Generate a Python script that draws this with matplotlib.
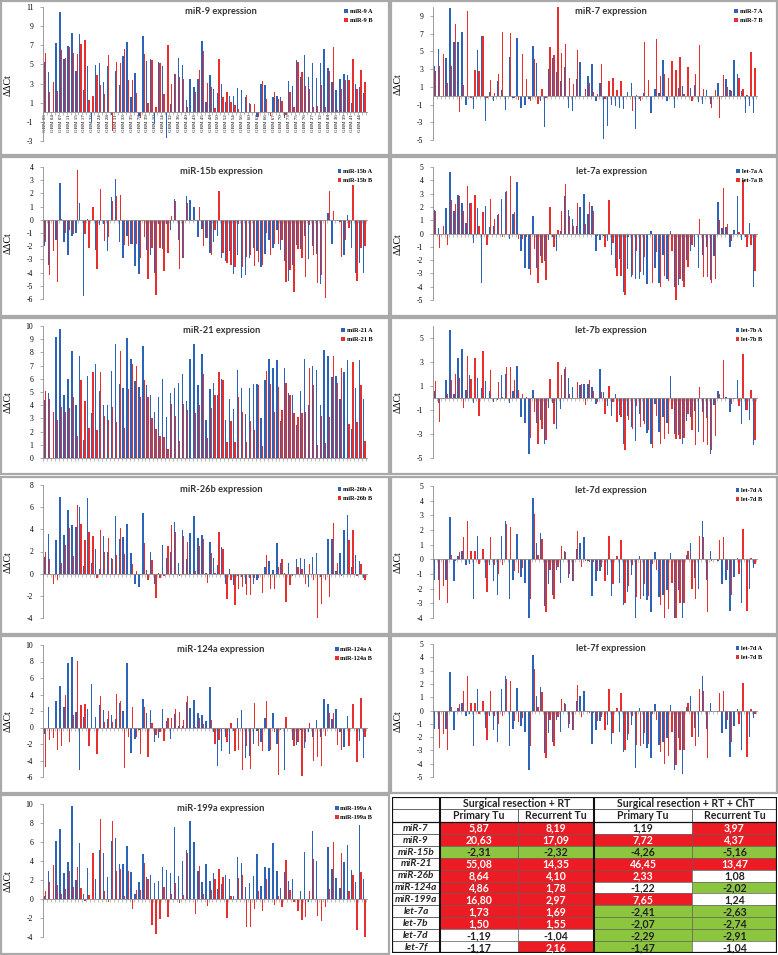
import numpy as np
import matplotlib.pyplot as plt
from matplotlib.patches import Rectangle

W, H = 778, 955
BLUE = '#2b63b9'
RED = '#e92e2e'
GRAY = '#8c8c8c'
SERIF = 'Liberation Serif'

# ---- data (ddCt per sample pair, A = primary, B = recurrent) ----
mir9_a = [5.3, 4.2, 0, 7.2, 10.5, 5.6, 6.9, 8.3, 4.3, 8.2, 2.3, 4.8, -1.0, 4.9, 5.1, 3.2, 4.8, -0.3, 4.3, 2.9,
          5.9, 7.3, 1.6, 4.1, -0.4, 8.0, 5.4, 5.6, -1.2, 5.3, 4.8, -2.7, 0.9, 4.0, 5.7, 4.9, 1.3, 3.5, 2.6, 3.5,
          7.4, 1.1, 3.9, 2.4, 2.0, 3.0, 1.1, 1.7, 1.7, 2.5, 2.3, 1.6, 1.0, 0, -0.5, 3.0, 2.9, 0, 1.6, 1.7,
          1.6, -0.6, 3.3, 2.7, 5.5, 3.7, 6.0, 3.7, 5.2, 3.6, 5.2, 6.6, 4.6, 3.2, 2.3, 3.5, 4.0, 3.9, 1.0, 3.0,
          2.6, 2.0]
mir9_b = [6.2, 2.1, 3.2, 2.2, 6.5, 5.7, 6.8, 6.2, 6.1, 7.1, 7.5, 1.3, 1.7, 3.9, 2.8, 1.9, 6.0, -2.0, 5.3, 5.2,
          6.6, 3.4, 3.4, 2.0, -0.6, 6.1, 1.0, 5.5, 0.5, 5.1, 1.9, 7.0, 3.0, 4.0, 3.7, 3.5, 0.6, 0, 2.1, 4.4,
          6.4, 3.1, 2.6, 0.4, 5.6, 1.6, 2.1, 1.1, 0.8, 0.3, -0.1, 1.8, 0.9, 0.9, -0.5, 3.3, 1.4, -0.4, 2.1, 1.4,
          1.2, -0.3, 2.1, 0.6, 5.3, 4.2, 2.7, 2.4, 0.6, 0.7, 2.8, 0.6, 4.3, 6.8, 0.2, 2.4, 3.4, 3.4, 5.6, 2.4,
          4.4, 3.2]
mir9_labels = ['GBM 06', 'GBM 04', 'GBM 07', 'GBM 11', 'GBM 15', 'GBM 17', 'GBM 22', 'GBM 24', 'GBM 28',
               'GBM 31', 'GBM 33', 'GBM 35', 'GBM 78', 'GBM 39', 'GBM 10', 'GBM 14', 'GBM 32', 'GBM 36',
               'GBM 40', 'GBM 43', 'GBM 45', 'GBM 48', 'GBM 50', 'GBM 52', 'GBM 54', 'GBM 56', 'GBM 60',
               'GBM 62', 'GBM 66', 'GBM 67', 'GBM 70', 'GBM 73', 'GBM 75', 'GBM 76', 'GBM 27', 'GBM 32',
               'GBM 88', 'GBM 36', 'GBM 39', 'GBM 41', 'GBM 44']

mir7_a = [3.4, 5.3, 0, 4.2, 9.9, 6.1, 6.0, 7.2, -1.1, 0, -1.5, 5.1, 6.7, -2.9, 0.4, -0.6, 1.6, 0.6, -1.6, 4.4,
          -0.3, 6.5, -1.4, -1.1, -0.4, 5.6, 3.7, -0.6, -3.5, 3.0, 4.3, 2.7, 1.7, 3.2, -1.4, -1.7, 1.9, 3.8, 0, 2.2,
          3.6, -0.6, 1.4, -4.9, -3.4, -1.1, -1.2, -1.4, -1.5, 0.4, 1.4, -3.8, -0.4, 0.3, -0.2, -2.0, 0.7, 0.3, 4.0,
          -0.6, 0, -1.4, 0.9, 1.1, 0, 0.9, 1.2, -0.7, -0.9, 0.6, -0.9, 0, 1.4, -0.2, 1.9, 0.6, 4.0, 2.4, 0.5,
          -2.0, -1.2, -1.9]
mir7_b = [2.8, 3.3, 4.7, 1.4, 3.3, 8.1, -1.8, 1.2, 9.6, -0.3, 2.9, 2.8, 6.7, -0.3, 1.8, 0.3, 2.4, 7.2, 0, 7.1,
          -0.3, -0.5, 4.7, 1.9, -0.6, 4.1, -0.9, 0.8, -0.3, 5.5, 4.6, 10.0, 4.8, 5.8, 2.0, 1.3, 5.2, 0, 0.8, 1.4,
          0.4, 0.2, 3.6, -0.4, 1.6, 2.0, 0.6, 1.6, -0.2, 0, -1.7, 0.1, -0.6, 6.0, 1.8, 0, 6.4, 2.2, 2.4, 2.0,
          3.9, 2.9, 4.4, 0.2, 3.2, -0.6, 2.4, 5.7, 0.7, -0.2, -1.4, 0.6, -2.5, 2.3, 1.0, 0.5, 0, 2.0, 0.8, 0.1,
          4.9, 3.1]

mir15b_a = [-2.0, -3.4, 0, -1.5, 2.8, -1.7, -2.7, -1.2, -1.0, 1.3, -5.8, 0.05, 0, -2.3, -0.4, -0.3, -2.4, 1.7,
            3.1, -1.7, -2.9, -1.2, -1.8, -3.5, -4.1, 0, -2.3, -2.7, -4.0, -0.3, -2.2, -0.3, -0.8, 1.6, -1.5, -2.9,
            1.8, 1.5, 1.0, -1.3, -0.7, -1.4, -2.5, -1.7, -1.2, -2.9, -3.1, -2.4, -4.1, -2.7, -4.4, -4.2, -2.9,
            -2.1, -2.4, -3.6, -2.6, -1.5, -2.1, -0.8, -2.3, -3.1, -4.6, -3.4, -1.9, -2.2, -1.2, -3.0, -2.0, -2.6,
            -4.9, 0, 0.5, -1.8, 0, -0.2, -2.7, 0.4, -2.1, -4.0, -3.3, -4.0]
mir15b_b = [-1.7, -4.2, -2.4, -4.7, 0.05, -1.0, -0.8, -1.1, 3.8, 0, -1.1, -2.1, 1.0, -3.7, 2.3, -1.6, -1.3, 1.4,
            1.8, 1.9, -1.9, -2.0, -1.8, -1.8, -2.9, -1.3, -4.5, -2.1, -5.7, -2.1, -3.9, -2.5, 0.3, 1.4, -3.7, -2.9,
            1.3, -0.1, 0, 1.0, -2.0, -1.4, -2.7, -0.8, 2.2, -2.5, -3.3, -3.4, -3.6, -0.3, -3.6, -2.8, -2.7, -3.5,
            -3.2, -3.4, -1.0, -2.7, -1.8, -1.8, -1.5, -4.7, -3.8, -5.5, -2.2, -2.9, -4.3, -0.4, -2.7, -4.8, -4.2,
            -5.9, 2.2, 0.7, -0.1, -2.8, -1.5, -0.6, 2.6, -4.6, -2.1, -2.0]

mir21_a = [4.4, 4.9, 0, 9.2, 9.8, 4.8, 6.0, 8.1, 4.0, 7.7, 1.4, 6.2, 3.4, 7.1, 5.1, 4.0, 4.0, 6.6, 8.6, 5.6,
           5.3, 9.1, 7.5, 5.8, 5.4, 8.5, 5.5, 4.8, 3.5, 4.6, 6.0, 3.1, 4.9, 5.3, 5.7, 6.4, 4.3, 7.5, 8.6, 5.5,
           7.9, 2.9, 5.2, 5.7, 4.8, 6.0, 2.9, 4.5, 3.7, 6.7, 5.3, 3.3, 5.3, 5.6, 5.6, 3.0, 5.9, 7.5, 6.8, 7.4,
           2.8, 6.8, 4.9, 4.8, 2.5, 5.1, 7.5, 4.0, 7.0, 6.7, 4.0, 8.2, 7.7, 6.1, 6.2, 4.5, 6.5, 7.4, 2.2, 5.3,
           7.4, 4.5]
mir21_b = [5.1, 4.5, 3.5, 2.9, 3.9, 3.5, 3.8, 4.6, 1.7, 5.9, 4.3, 2.3, 6.5, 2.1, 6.5, 3.2, 2.9, 3.9, 2.7, 8.1,
           2.3, 5.2, 7.1, 7.0, 4.6, 5.9, 4.6, 3.0, 2.2, 1.7, 1.6, 0.7, 4.1, 3.2, 1.3, 4.1, 3.6, 0, 3.4, 4.0,
           6.4, 1.5, 3.8, 4.8, 6.5, 5.9, 1.2, 2.8, 1.2, 4.6, 3.5, 1.2, 2.8, 2.1, 5.5, 0.9, 6.6, 5.6, 3.5, 5.4,
           3.6, 5.7, 4.8, 3.4, 3.1, 3.4, 3.5, 6.8, 5.5, 1.0, 3.2, 1.1, 3.1, 7.7, 5.7, 6.8, 0, 2.6, 7.3, 2.7,
           5.5, 1.3]

let7a_a = [1.8, 0.4, 0, 1.9, 4.6, 1.7, 2.9, 2.3, 0.8, 2.3, -0.7, 1.9, -3.7, 2.1, 0.5, 0.6, 1.4, 2.6, 3.1, -0.4,
           1.5, 3.9, -1.3, -2.6, -2.7, 1.3, -2.6, -1.7, -2.1, -0.5, -0.3, -1.3, 0.2, 2.8, 1.8, 1.1, 0.6, 2.0, 3.0,
           1.5, 2.1, -1.3, -0.5, -0.2, -0.6, -1.6, -2.6, -1.9, -4.4, -2.7, -3.3, -3.4, -3.4, -3.1, -3.8, 0.2,
           -2.6, -3.7, -1.6, -3.4, 0.2, -4.0, -3.9, -3.6, -2.0, -1.3, -1.0, -2.6, -1.6, -1.0, -3.5, -1.7, 2.4,
           0.4, 0.5, -1.0, 0.3, 2.8, -0.5, -0.3, 0.8, -4.0]
let7a_b = [1.7, -1.1, 0.6, -0.9, 2.5, 2.2, 2.8, 1.7, 3.6, 2.3, 2.9, 0.6, 1.6, -0.9, 2.6, 1.1, 1.5, -0.3, 3.2, 4.3,
           1.6, -0.4, -0.4, -0.3, -3.1, -1.2, -3.7, -2.2, -3.5, 2.0, -1.0, 0.3, 1.7, 3.7, 1.3, 0.6, 2.3, 0, 0.7,
           2.4, 1.7, -0.2, 0, -1.0, 2.5, -0.7, -3.2, -3.2, -4.6, -0.3, -3.1, -1.3, -2.9, -1.8, 0, -3.7, -1.4,
           -4.0, -3.2, -3.6, -1.3, -5.0, -3.4, -4.0, -2.5, -0.9, 0, 1.1, -3.3, -3.3, -3.7, -3.4, 1.0, 3.4, 0.7,
           -0.6, 0, 0.1, 4.0, -1.0, -0.9, -2.8]

let7b_a = [0.6, -0.4, 0, 1.5, 5.7, 0.3, 3.3, 4.1, 0.7, 1.9, -0.4, 1.7, 0.8, 1.4, 0.6, -0.3, -0.2, 1.9, 2.0, -0.4,
           0.6, 2.7, -1.6, -2.1, -4.7, 0.7, -2.1, -1.8, -3.8, -0.8, -0.4, -2.6, -0.9, 2.4, 1.7, 0.9, 0, 1.1, 1.2,
           1.2, 0.9, -0.5, 2.4, 0.5, -0.7, -1.5, 0.3, -1.4, -3.8, -1.5, -2.4, -3.6, -1.3, -1.9, -2.9, -3.8, -0.5,
           -2.8, -1.6, -2.1, 1.8, -3.0, -3.1, -3.8, -1.9, -1.6, -1.1, -2.8, -1.2, -1.7, -4.7, -0.6, 0.6, 0, 0.1,
           -1.2, -0.1, 1.5, -2.2, -1.0, -1.8, -3.9]
let7b_b = [1.4, -2.0, -0.1, 0.3, 1.5, 2.0, 1.7, -0.8, 3.5, 1.6, 3.3, -1.5, 3.9, 0, 2.3, 0, 1.3, 0.1, 2.6, 2.6,
           1.5, 0.7, 0.3, 0.1, -3.3, -1.2, -3.8, -2.6, -3.5, 1.6, -2.2, 3.0, 1.9, 2.6, 0.3, 0, 1.3, 1.2, -0.6,
           1.5, 0.6, -0.3, 0.5, -1.3, 1.0, -0.3, -2.0, -1.6, -4.3, -1.8, -2.6, -0.7, -2.4, -2.2, -2.7, -4.2, -1.5,
           -3.8, -3.4, -3.0, -0.9, -3.4, -3.4, -3.3, -1.3, -2.7, -3.9, 0.9, -3.7, -3.9, -4.3, -3.2, 0.3, 3.2, 0,
           -0.5, 0, -0.7, 3.7, -1.0, 0.7, -3.5]

mir26b_a = [1.5, 3.6, 0, 3.0, 6.9, 3.5, 5.7, 4.4, 4.2, 6.0, 0.7, 6.8, 1.0, 2.2, 0.4, 3.4, 2.0, 1.4, 5.2, 3.1,
            3.3, 4.5, 1.9, -0.9, -1.2, 5.5, 0.3, 2.0, -0.9, 0.1, 2.6, 1.4, 2.0, 4.7, 1.0, 3.9, 1.3, 3.7, 5.2, 3.2,
            3.5, 0.1, 2.9, 1.4, 0.8, 2.4, -0.9, 0.4, -1.0, -0.2, -0.3, -0.9, -0.4, -0.9, -0.6, 0, 0.6, 1.1, 0.3,
            2.8, 1.0, 0.1, 1.0, -0.2, 1.3, 1.4, 1.3, -1.2, 1.5, 1.9, -0.3, 0, 3.1, 3.1, 0.2, 1.9, 3.9, 5.3, 0.6,
            1.7, 1.1, -0.4]
mir26b_b = [2.0, 1.3, -0.9, -0.6, 1.0, 2.6, 4.1, 1.6, 6.2, 4.5, 3.0, 3.8, 3.4, -0.4, 3.9, 2.0, 3.2, 1.3, 1.7, 4.1,
            1.8, 0, 0.9, 0.2, -0.1, 2.8, -0.6, 1.2, -2.2, -0.4, -0.2, 2.5, 4.4, 3.8, -0.2, 3.4, 2.9, 0, 0.2, 2.5,
            3.1, -0.8, 1.9, 0.1, 3.8, 2.2, -2.3, -0.6, -2.8, -1.4, -1.2, -1.9, -1.9, -0.4, -0.4, -1.7, 1.7, -1.4,
            -1.4, 0.6, 1.3, -2.6, -1.0, 0, 0.6, 0.4, -0.9, 0.9, -0.6, -4.0, -2.7, -0.6, -2.1, 4.6, 1.0, -0.2, 0,
            3.0, 3.9, -0.2, 0.9, -0.6]

let7d_a = [-1.4, -1.4, 0, -1.4, 2.9, -1.5, 0.2, 0.6, -0.4, -0.3, -2.7, 1.6, 0, -1.3, -0.4, -1.5, -2.4, 1.6, 2.6,
           -2.7, -1.4, 1.7, -1.2, -1.6, -4.0, 4.2, 1.1, 1.8, -3.2, -1.7, -2.4, -0.7, -1.6, 0.6, -1.3, -1.5, 0.7,
           1.1, 1.5, -0.1, -2.5, -1.5, -0.8, 0, -1.1, -2.5, 0, -1.6, -3.1, -2.2, -1.1, -4.0, 0.2, -2.5, -2.8, -3.6,
           0.5, -2.6, -2.4, -2.1, 0.4, -4.0, -2.1, -4.0, 0.3, 1.1, -1.3, -2.0, 2.6, -1.4, 0.6, 0, -0.1, -1.7, -1.4,
           -3.5, -1.2, 0.1, -3.0, 0, -2.0, -0.6]
let7d_b = [0, -2.8, -1.8, -3.0, 0.3, -0.1, 0.5, 1.5, 2.6, 0.6, 0.6, -0.3, 0.7, -2.2, 1.5, -0.4, -1.0, -0.4, 2.4,
           2.2, -0.8, -0.9, -0.6, 0, -2.7, 3.1, 0.3, 1.4, -3.6, -0.7, -2.7, -0.5, 0.9, 0.5, -1.0, -1.5, 1.9, -0.5,
           -0.1, -0.2, -0.2, -0.8, -0.5, -1.5, 1.6, -1.7, 0.2, 1.3, -3.0, -1.8, -0.4, -2.6, -2.7, -1.7, -2.5, -0.3,
           -0.7, -3.1, -4.0, -3.4, -1.6, -4.0, -3.0, -3.0, 0.6, -2.0, -2.7, 1.6, 1.5, -3.6, -0.1, 0, 1.3, 1.5,
           -0.7, -2.4, 0, -1.0, 2.1, -3.5, 0.1, -0.3]

let7f_a = [-1.4, -1.4, 0, -1.4, 2.9, -1.5, 0.2, 0.6, -0.4, -0.3, -2.7, 1.6, 0, -1.3, -0.4, -1.5, -2.4, 1.6, 2.6,
           -2.7, -1.4, 1.7, -1.2, -1.6, -4.5, 4.2, 1.1, 1.8, -3.2, -1.7, -2.4, -0.7, -1.6, 0.6, -1.3, -1.5, 0.7,
           1.1, 1.5, -0.1, -2.5, -1.5, -0.8, 0, -1.1, -2.5, 0, -1.6, -3.1, -2.2, -1.1, -4.3, 0.2, -2.5, -2.8, -3.6,
           0.5, -2.6, -2.4, -2.1, 0.4, -4.5, -2.1, -4.8, 0.3, 1.1, -1.3, -2.0, 2.6, -1.4, 0.6, 0, -0.1, -1.7, -1.4,
           -3.5, -1.2, 0.1, -3.0, 0, -2.0, -0.6]
let7f_b = [0, -2.8, -1.8, -3.0, 0.3, -0.1, 0.5, 1.5, 2.6, 0.6, 0.6, -0.3, 0.7, -2.2, 1.5, -0.4, -1.0, -0.4, 2.4,
           2.2, -0.8, -0.9, -0.6, 0, -2.7, 3.1, 0.3, 1.4, -3.6, -0.7, -2.7, -0.5, 0.9, 0.5, -1.0, -1.5, 1.9, -0.5,
           -0.1, -0.2, -0.2, -0.8, -0.5, -1.5, 1.6, -1.7, 0.2, 1.3, -3.0, -1.8, -0.4, -2.6, -2.7, -1.7, -2.5, -0.3,
           -0.7, -3.1, -4.0, -3.4, -1.6, -4.1, -3.0, -3.0, 0.6, -2.0, -2.7, 1.6, 1.5, -3.6, -0.1, 0, 1.3, 1.5,
           -0.7, -2.4, 0, -1.0, 2.1, -3.5, 0.1, -0.3]

mir124a_a = [-0.8, 2.5, 0, 3.2, 5.0, 2.5, 7.8, 8.6, 1.9, -5.1, 1.3, 2.3, 5.3, 1.3, 2.7, 2.1, 1.0, 1.5, 1.0, 3.0,
             2.0, 7.8, -3.1, -1.4, -0.3, 3.5, 1.8, 2.1, -1.8, -1.3, 2.2, 0.8, -1.4, 1.6, 0.2, 0.2, 3.1, 2.4, 3.3,
             1.8, 1.5, 0.8, 4.9, -0.6, -4.7, -2.8, -1.1, -3.2, -0.4, 1.1, 2.1, -3.7, -3.5, -2.0, -0.4, -1.7, 1.1,
             -2.8, 1.8, -2.0, -0.3, -5.2, -0.1, -1.5, -2.1, -0.3, -2.5, -0.6, -1.1, 0.9, -1.1, 3.4, 2.9, 1.0, 2.3,
             -0.5, -2.4, 1.4, -0.1, -0.1, -1.6, -3.7]
mir124a_b = [-4.8, -1.5, -1.3, -2.7, -2.2, 3.9, -1.7, 1.5, 8.1, 2.7, 2.9, -2.3, -0.1, -3.2, 3.8, 0.7, 2.0, 0.7,
             4.1, 3.2, -4.9, -1.2, 2.5, -1.1, -3.2, 2.5, -3.6, 0.6, -0.9, -0.6, -1.6, 1.2, 1.2, 2.3, 1.9, 0.9, 3.8,
             0, 0.1, 1.2, 0.4, -0.1, 0.9, -2.0, -1.5, -0.2, -1.8, 0.5, -2.8, -2.7, -5.1, -2.3, -5.0, 3.0, -2.2,
             -2.8, 3.2, -2.7, -0.5, -5.7, 0, 1.3, -0.2, -2.2, -1.8, -5.9, -1.8, 0.5, -4.0, -3.6, -4.7, -1.0, 1.8,
             1.8, -2.1, -2.7, -0.1, -2.3, 2.8, -4.2, 3.6, -1.1]

mir199a_a = [0.3, 2.9, 0, 6.1, 7.4, 2.7, 3.9, 9.8, 2.0, 5.9, 0.5, 3.3, 0, 2.1, 5.2, 4.8, 2.3, 6.1, 6.4, 3.7,
             3.7, 5.6, 2.8, 0.5, 1.8, 4.7, 2.3, 2.5, 1.7, 1.9, 3.4, 3.1, 2.7, 7.6, 2.4, 4.0, 5.2, 8.2, 6.0, 3.0,
             1.8, 3.7, 1.9, 2.7, 1.1, 1.6, 2.5, 2.1, 0.3, 4.4, 3.8, 1.3, 1.7, 2.4, 4.7, 1.4, 3.4, 3.3, 5.9, 2.9,
             1.2, 2.8, 1.9, 2.1, 0, 0.8, 5.0, -0.3, 7.2, 4.0, 0, 0, 5.5, 3.2, 2.2, 1.2, 3.9, 5.7, 3.1, 1.8, 7.8, 2.1]
mir199a_b = [0.8, 1.8, 3.6, 1.5, 0.5, 1.1, 3.0, 1.3, 3.4, 1.2, -0.2, 0.4, 4.8, 0, 8.4, 0.8, -0.3, 8.2, 3.0, 3.2,
             0.3, 3.0, -1.0, 0.9, 0.9, 3.8, 2.1, -2.7, -3.7, -2.1, 1.3, -1.9, 0.5, 1.7, -0.4, 0.4, 4.8, 0, -1.6,
             3.5, 0.5, -0.7, 1.0, 2.1, 3.2, 2.3, -2.0, 0.3, 0, 2.2, 2.5, -2.9, -2.9, -1.0, 0.8, -1.3, 2.1, 0, -0.6,
             0.3, -0.8, 4.1, 0.9, -0.3, -1.3, -2.2, -1.9, 0.8, 4.2, -1.8, -2.3, -0.8, 1.1, 6.0, 0, 4.8, 0, 0.8, 2.5,
             -3.3, 2.8, -4.0]

# table
tab_names = ['miR-7', 'miR-9', 'miR-15b', 'miR-21', 'miR-26b', 'miR-124a', 'miR-199a',
             'let-7a', 'let-7b', 'let-7d', 'let-7f']
surg_rt_primary = [5.87, 20.63, -2.31, 55.08, 8.64, 4.86, 16.80, 1.73, 1.50, -1.19, -1.17]
surg_rt_recurrent = [8.19, 17.09, -2.32, 14.35, 4.10, 1.78, 2.97, 1.69, 1.55, -1.04, 2.16]
surg_cht_primary = [1.19, 7.72, -4.26, 46.45, 2.33, -1.22, 7.65, -2.41, -2.07, -2.29, -1.47]
surg_cht_recurrent = [3.97, 4.37, -5.16, 13.47, 1.08, -2.02, 1.24, -2.63, -2.74, -2.91, -1.04]
group_titles = ['Surgical resection + RT', 'Surgical resection + RT + ChT']
sub_titles = ['Primary Tu', 'Recurrent Tu', 'Primary Tu', 'Recurrent Tu']

fig = plt.figure(figsize=(W / 100, H / 100), dpi=100)


def add_axes_px(x0, y0, x1, y1):
    return fig.add_axes([x0 / W, 1 - y1 / H, (x1 - x0) / W, (y1 - y0) / H])


def draw_panel(box, axpx, a, b, title, names, ylim, yticks, xlabels=None):
    x0, y0, x1, y1 = box
    fig.add_artist(Rectangle((x0 / W, 1 - y1 / H), (x1 - x0) / W, (y1 - y0) / H,
                             transform=fig.transFigure, fill=False, ec='#a9a9a9', lw=1.6))
    ax = add_axes_px(*axpx)
    ax.bar(np.arange(len(a)) - 0.17, a, width=0.34, color=BLUE, label=names[0], zorder=2)
    ax.bar(np.arange(len(b)) + 0.17, b, width=0.34, color=RED, label=names[1], zorder=2)
    ax.set_xlim(-0.45, 81.7)
    ax.set_ylim(ylim)
    ax.set_yticks(yticks)
    ax.set_yticklabels([str(t) for t in yticks], family=SERIF, fontsize=5.5)
    ax.tick_params(axis='y', length=2, width=0.5, color=GRAY, pad=5)
    for s in ['top', 'right']:
        ax.spines[s].set_visible(False)
    ax.spines['left'].set_color(GRAY)
    ax.spines['left'].set_linewidth(0.6)
    ax.spines['bottom'].set_position(('data', 0))
    ax.spines['bottom'].set_color(GRAY)
    ax.spines['bottom'].set_linewidth(0.6)
    ax.set_xticks(np.arange(-0.5, 82, 1), minor=True)
    ax.tick_params(axis='x', which='minor', length=2, width=0.4, color=GRAY, direction='out')
    if xlabels:
        ax.set_xticks(np.arange(0, 2 * len(xlabels), 2))
        ax.set_xticklabels(xlabels, rotation=90, family=SERIF, fontsize=3.6)
        ax.tick_params(axis='x', which='major', length=0, pad=1.5)
    else:
        ax.set_xticks([])
    ax.patch.set_alpha(0)
    ax.text(0.55, 0.965, title, transform=ax.transAxes, ha='center', va='center',
            fontsize=6.7, fontweight='bold', family='Lato', color='#333333')
    ax.legend(loc='upper right', bbox_to_anchor=(1.03, 1.02), frameon=False,
              prop=dict(family=SERIF, weight='bold', size=4.5),
              handlelength=0.6, handleheight=0.6, handletextpad=0.3, labelspacing=0.7, borderpad=0.2)
    ax.set_ylabel('ΔΔCt', family=SERIF, fontsize=7)
    ax.yaxis.set_label_coords(-0.095, 0.42)
    return ax


LX = (43, 367)
RX = (433, 757)
draw_panel((1, 1, 389, 155), (LX[0], 7, LX[1], 141), mir9_a, mir9_b, 'miR-9 expression',
           ('miR-9 A', 'miR-9 B'), (-3, 11), list(range(-3, 12, 2)), mir9_labels)
draw_panel((391, 1, 777, 155), (RX[0], 7, RX[1], 140), mir7_a, mir7_b, 'miR-7 expression',
           ('miR-7 A', 'miR-7 B'), (-5, 10), list(range(-5, 10, 2)))
draw_panel((1, 157, 389, 316), (LX[0], 167, LX[1], 299), mir15b_a, mir15b_b, 'miR-15b expression',
           ('miR-15b A', 'miR-15b B'), (-6, 4), list(range(-6, 5)))
draw_panel((391, 157, 777, 316), (RX[0], 167, RX[1], 300), let7a_a, let7a_b, 'let-7a expression',
           ('let-7a A', 'let-7a B'), (-5, 5), list(range(-5, 6)))
draw_panel((1, 318, 389, 474), (LX[0], 326, LX[1], 458), mir21_a, mir21_b, 'miR-21 expression',
           ('miR-21 A', 'miR-21 B'), (0, 10), list(range(0, 11)))
draw_panel((391, 318, 777, 474), (RX[0], 326, RX[1], 458), let7b_a, let7b_b, 'let-7b expression',
           ('let-7b A', 'let-7b B'), (-5, 6), list(range(-5, 6, 2)))
draw_panel((1, 477, 389, 634), (LX[0], 485, LX[1], 618), mir26b_a, mir26b_b, 'miR-26b expression',
           ('miR-26b A', 'miR-26b B'), (-4, 8), list(range(-4, 9, 2)))
draw_panel((391, 477, 777, 634), (RX[0], 486, RX[1], 618), let7d_a, let7d_b, 'let-7d expression',
           ('let-7d A', 'let-7d B'), (-4, 5), list(range(-4, 6)))
draw_panel((1, 636, 389, 793), (LX[0], 645, LX[1], 777), mir124a_a, mir124a_b, 'miR-124a expression',
           ('miR-124a A', 'miR-124a B'), (-6, 10), list(range(-6, 11, 2)))
draw_panel((391, 636, 777, 793), (RX[0], 644, RX[1], 777), let7f_a, let7f_b, 'let-7f expression',
           ('let-7d A', 'let-7d B'), (-5, 5), list(range(-5, 6)))
draw_panel((1, 795, 389, 954), (LX[0], 804, LX[1], 937), mir199a_a, mir199a_b, 'miR-199a expression',
           ('miR-199a A', 'miR-199a B'), (-4, 10), list(range(-4, 11, 2)))

# ---- table ----
tx0, tx1, ty0, ty1 = 392, 777, 797, 953
axt = add_axes_px(tx0, ty0, tx1, ty1)
axt.set_xlim(tx0, tx1)
axt.set_ylim(ty1, ty0)
axt.axis('off')
cols = [392, 440, 518, 594, 692, 777]
h1, h2 = 809, 822
rh = (ty1 - h2) / len(tab_names)
TF = 'Lato'
FS = 7.6
RED_C = '#ed1c24'
GREEN_C = '#8cc63f'

axt.add_patch(Rectangle((cols[0], ty0), cols[1] - cols[0], h1 - ty0, fc='white', ec='#444', lw=0.5))
axt.add_patch(Rectangle((cols[0], h1), cols[1] - cols[0], h2 - h1, fc='white', ec='#444', lw=0.5))
for g in range(2):
    xa, xb = cols[1 + 2 * g], cols[3 + 2 * g]
    axt.add_patch(Rectangle((xa, ty0), xb - xa, h1 - ty0, fc='white', ec='#444', lw=0.5))
    axt.text((xa + xb) / 2, (ty0 + h1) / 2 + 0.3, group_titles[g], ha='center', va='center',
             fontsize=FS, fontweight='bold', family=TF, color='#222')
for c in range(4):
    xa, xb = cols[c + 1], cols[c + 2]
    axt.add_patch(Rectangle((xa, h1), xb - xa, h2 - h1, fc='white', ec='#444', lw=0.5))
    axt.text((xa + xb) / 2, (h1 + h2) / 2 + 0.3, sub_titles[c], ha='center', va='center',
             fontsize=FS, fontweight='bold', family=TF, color='#222')

cols_vals = [surg_rt_primary, surg_rt_recurrent, surg_cht_primary, surg_cht_recurrent]
for r, name in enumerate(tab_names):
    y = h2 + r * rh
    axt.add_patch(Rectangle((cols[0], y), cols[1] - cols[0], rh, fc='white', ec='#444', lw=0.5))
    axt.text((cols[0] + cols[1]) / 2, y + rh / 2 + 0.3, name, ha='center', va='center', fontsize=7.2,
             fontweight='bold', style='italic', family=TF, color='#222')
    for c in range(4):
        v = cols_vals[c][r]
        if v >= 1.45:
            fc, tc = RED_C, 'white'
        elif v <= -1.45:
            fc, tc = GREEN_C, '#222'
        else:
            fc, tc = 'white', '#222'
        xa, xb = cols[c + 1], cols[c + 2]
        axt.add_patch(Rectangle((xa, y), xb - xa, rh, fc=fc, ec='#555', lw=0.4))
        axt.text((xa + xb) / 2, y + rh / 2 + 0.3, f'{v:.2f}'.replace('.', ','), ha='center', va='center',
                 fontsize=FS, fontweight='bold', family=TF, color=tc)

axt.add_patch(Rectangle((tx0, ty0), tx1 - tx0, ty1 - ty0, fill=False, ec='#111', lw=1.6))
for xv in (cols[1], cols[3]):
    axt.plot([xv, xv], [ty0, ty1], color='#111', lw=1.5)
axt.plot([tx0, tx1], [h2, h2], color='#111', lw=0.9)

fig.savefig('out.png', dpi=100)
